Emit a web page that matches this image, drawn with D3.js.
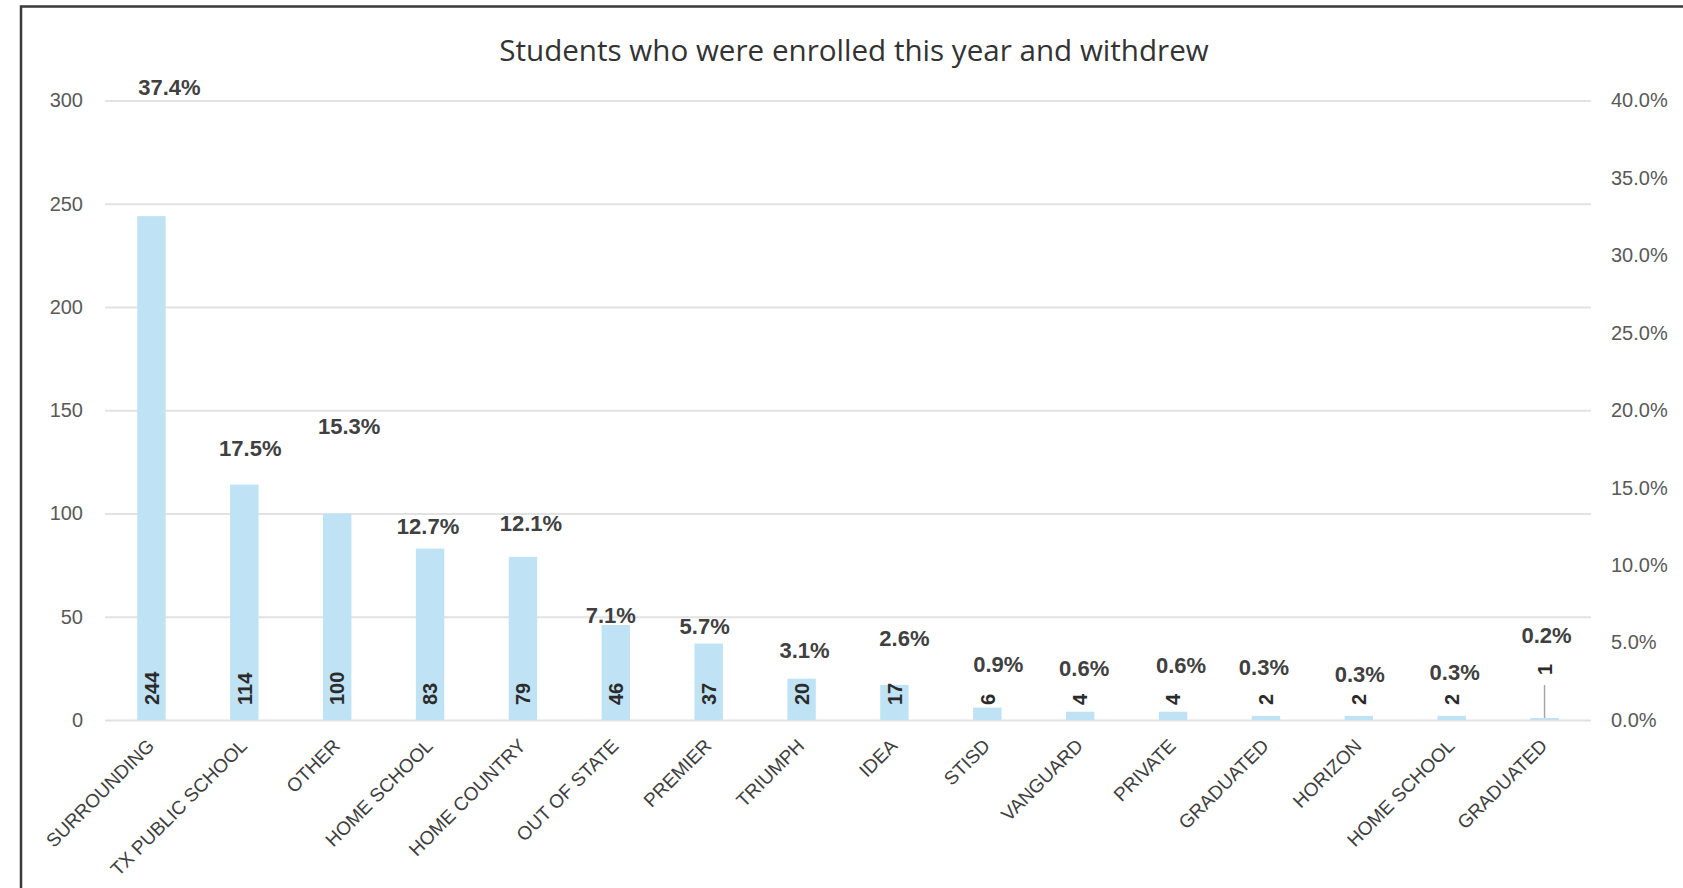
<!DOCTYPE html>
<html>
<head>
<meta charset="utf-8">
<script src="https://cdn.jsdelivr.net/npm/d3@7"></script>
<style>
  html, body { margin: 0; padding: 0; background: #ffffff; }
  svg { display: block; }
</style>
</head>
<body>
<svg id="chart" width="1683" height="888"></svg>
<script>
// ---- data ----
const categories = [
  "SURROUNDING", "TX PUBLIC SCHOOL", "OTHER", "HOME SCHOOL", "HOME COUNTRY",
  "OUT OF STATE", "PREMIER", "TRIUMPH", "IDEA", "STISD", "VANGUARD",
  "PRIVATE", "GRADUATED", "HORIZON", "HOME SCHOOL", "GRADUATED"
];
const counts = [244, 114, 100, 83, 79, 46, 37, 20, 17, 6, 4, 4, 2, 2, 2, 1];
const shares = [37.4, 17.5, 15.3, 12.7, 12.1, 7.1, 5.7, 3.1, 2.6, 0.9, 0.6, 0.6, 0.3, 0.3, 0.3, 0.2];
const countTicks = [0, 50, 100, 150, 200, 250, 300];
const shareTicks = [0, 5, 10, 15, 20, 25, 30, 35, 40];

// ---- layout (label nudges, in px) ----
const shareLabelGap = [129, 37, 87, 23, 34, 10, 18, 29, 47, 44, 44, 47, 49, 42, 44, 83];
const shareLabelDx  = [18, 6, 12, -2, 8, -5, -4, 3, 10, 11, 4, 8, -2, 1, 3, 2];
const countLabelLift = [0, 0, 0, 0, 0, 0, 0, 0, 0, 0, 0, 0, 0, 0, 0, 30];

const svg = d3.select("#chart");
const plot = { left: 105, right: 1591, top: 100.5, bottom: 720 };

const x = d3.scaleBand()
  .domain(d3.range(categories.length))
  .range([plot.left, plot.right])
  .paddingInner(0.694)
  .paddingOuter(0.347);

const y = d3.scaleLinear().domain([0, 300]).range([plot.bottom, plot.top]);
const yShare = d3.scaleLinear().domain([0, 40]).range([plot.bottom, plot.top]);

const axisFont = "'Liberation Sans', Arial, sans-serif";

// frame
svg.append("rect")
  .attr("x", 21).attr("y", 6.5)
  .attr("width", 1700).attr("height", 900)
  .attr("fill", "none")
  .attr("stroke", "#3a3a3a")
  .attr("stroke-width", 2.5);

// title
svg.append("text")
  .attr("x", 854).attr("y", 61)
  .attr("text-anchor", "middle")
  .attr("font-family", "'Open Sans', 'Noto Sans', sans-serif")
  .attr("font-size", 29.6)
  .attr("fill", "#333333")
  .text("Students who were enrolled this year and withdrew");

// gridlines + left axis
const gLeft = svg.append("g")
  .attr("transform", `translate(${plot.left},0)`)
  .call(d3.axisLeft(y)
    .tickValues(countTicks)
    .tickSize(-(plot.right - plot.left))
    .tickPadding(22));
gLeft.select(".domain").remove();
gLeft.selectAll(".tick line")
  .attr("stroke", "#e2e2e2")
  .attr("stroke-width", 2.2);
gLeft.selectAll(".tick text")
  .attr("font-family", axisFont)
  .attr("font-size", 20)
  .attr("fill", "#595959");

// right axis (share)
const gRight = svg.append("g")
  .attr("transform", `translate(${plot.right},0)`)
  .call(d3.axisRight(yShare)
    .tickValues(shareTicks)
    .tickSize(0)
    .tickPadding(20)
    .tickFormat(d => d3.format(".1f")(d) + "%"));
gRight.select(".domain").remove();
gRight.selectAll(".tick text")
  .attr("font-family", axisFont)
  .attr("font-size", 20)
  .attr("fill", "#595959");

// bars
svg.append("g")
  .selectAll("rect")
  .data(counts)
  .join("rect")
  .attr("x", (d, i) => x(i))
  .attr("width", x.bandwidth())
  .attr("y", d => y(d))
  .attr("height", d => y(0) - y(d))
  .attr("fill", "#bfe3f4");

// category labels
const gBottom = svg.append("g")
  .attr("transform", `translate(0,${plot.bottom})`)
  .call(d3.axisBottom(x).tickSize(0).tickFormat(i => categories[i]));
gBottom.select(".domain").remove();
gBottom.selectAll(".tick text")
  .attr("font-family", axisFont)
  .attr("font-size", 19)
  .attr("fill", "#3f3f3f")
  .attr("text-anchor", "end")
  .attr("dy", null)
  .attr("y", null)
  .attr("transform", "translate(4,27) rotate(-45)");

// count labels (rotated, near the base)
const cx = i => x(i) + x.bandwidth() / 2;
const countG = svg.append("g");
counts.forEach((v, i) => {
  const lift = countLabelLift[i];
  const yStart = plot.bottom - 15 - lift;
  countG.append("text")
    .attr("transform", `translate(${cx(i)},${yStart}) rotate(-90)`)
    .attr("dy", "0.36em")
    .attr("font-family", axisFont)
    .attr("font-weight", "bold")
    .attr("font-size", 20)
    .attr("fill", "#2b2b2b")
    .text(v);
  if (lift > 0) {
    countG.append("line")
      .attr("x1", cx(i)).attr("x2", cx(i))
      .attr("y1", yStart + 10).attr("y2", y(v))
      .attr("stroke", "#a6a6a6")
      .attr("stroke-width", 1.5);
  }
});

// share labels
svg.append("g")
  .selectAll("text")
  .data(shares)
  .join("text")
  .attr("x", (d, i) => cx(i) + shareLabelDx[i])
  .attr("y", (d, i) => y(counts[i]) - shareLabelGap[i])
  .attr("dy", "0.36em")
  .attr("text-anchor", "middle")
  .attr("font-family", axisFont)
  .attr("font-weight", "bold")
  .attr("font-size", 22)
  .attr("fill", "#404040")
  .text(d => d3.format(".1f")(d) + "%");
</script>
</body>
</html>
